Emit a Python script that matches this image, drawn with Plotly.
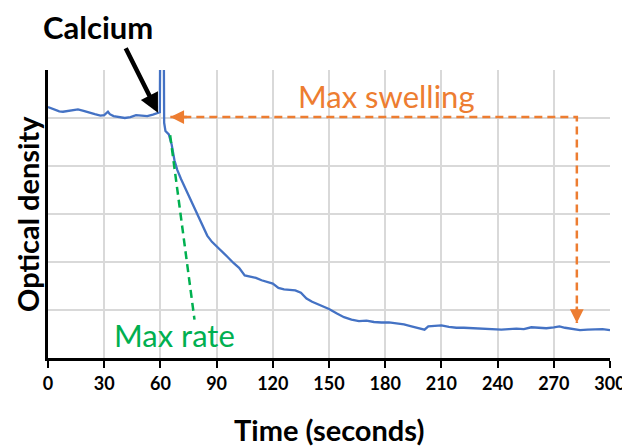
import plotly.graph_objects as go

# ---- data ----
time_s = [0, 2, 4, 6, 8, 10, 13, 16, 19, 22, 25, 28, 30, 32, 33, 35, 38, 41, 44, 47,
          50, 53, 56, 58.5, 59.7, 60.0, 61.7, 62.0, 62.7, 64.5, 66, 67.5, 69, 71, 73.5,
          76, 78.5, 81, 83, 85, 87.5, 90, 93, 96, 99, 102, 105, 108, 111, 114, 117,
          120, 123, 126, 129, 132, 135, 138, 141, 144, 147, 150, 154, 158, 162, 166,
          170, 174, 178, 182, 186, 190, 194, 198, 201, 203, 206, 210, 214, 218, 222,
          226, 230, 234, 238, 242, 246, 250, 254, 258, 262, 266, 270, 273, 276, 280,
          284, 288, 292, 296, 300]
optical_density = [5.23, 5.20, 5.16, 5.14, 5.13, 5.14, 5.17, 5.18, 5.15, 5.11, 5.08, 5.05,
                   5.06, 5.13, 5.08, 5.04, 5.02, 5.00, 5.02, 5.06, 5.05, 5.04, 5.07, 5.10,
                   5.12, 7.5, 7.5, 4.90, 4.73, 4.66, 4.45, 4.12, 3.92, 3.73, 3.52, 3.32,
                   3.12, 2.92, 2.72, 2.55, 2.42, 2.33, 2.22, 2.10, 1.98, 1.88, 1.72, 1.69,
                   1.67, 1.62, 1.58, 1.55, 1.46, 1.43, 1.42, 1.41, 1.36, 1.24, 1.17, 1.12,
                   1.07, 1.02, 0.93, 0.85, 0.80, 0.77, 0.78, 0.75, 0.74, 0.74, 0.72, 0.70,
                   0.66, 0.62, 0.59, 0.66, 0.67, 0.68, 0.65, 0.63, 0.63, 0.62, 0.62, 0.61,
                   0.60, 0.59, 0.60, 0.61, 0.60, 0.64, 0.63, 0.62, 0.64, 0.66, 0.63, 0.61,
                   0.58, 0.59, 0.59, 0.60, 0.58]

x_ticks = [0, 30, 60, 90, 120, 150, 180, 210, 240, 270, 300]

# max-rate tangent (green dashed)
rate_t = [65.2, 78.2]
rate_od = [4.64, 0.80]

# max-swelling bracket (orange dashed): left tip, corner, bottom tip
swell_t = [65.3, 282.3, 282.3]
swell_od = [5.02, 5.02, 0.73]

# calcium addition arrow tip
calcium_t = 58.7
calcium_od = 5.11

BLUE = "#4472C4"
ORANGE = "#ED7D31"
GREEN = "#00B050"
FONT = "Lato"

fig = go.Figure()

fig.add_trace(go.Scatter(x=time_s, y=optical_density, mode="lines",
                         line=dict(color=BLUE, width=2.3), hoverinfo="skip",
                         showlegend=False))
fig.add_trace(go.Scatter(x=rate_t, y=rate_od, mode="lines",
                         line=dict(color=GREEN, width=2.5, dash="8px,5px"),
                         showlegend=False))
fig.add_trace(go.Scatter(x=swell_t, y=swell_od, mode="lines",
                         line=dict(color=ORANGE, width=2.5, dash="8px,5px"),
                         showlegend=False))

annotations = [
    # orange arrowheads
    dict(x=swell_t[0], y=swell_od[0], xref="x", yref="y", text="", showarrow=True,
         ax=18, ay=0, arrowhead=2, arrowsize=1.1, arrowwidth=2.5, arrowcolor=ORANGE),
    dict(x=swell_t[2], y=swell_od[2], xref="x", yref="y", text="", showarrow=True,
         ax=0, ay=-18, arrowhead=2, arrowsize=1.1, arrowwidth=2.5, arrowcolor=ORANGE),
    # calcium arrow
    dict(x=calcium_t, y=calcium_od, xref="x", yref="y", text="", showarrow=True,
         ax=-33, ay=-66, arrowhead=2, arrowsize=0.85, arrowwidth=4.5, arrowcolor="black"),
    dict(x=26.5, y=1, xref="x", yref="paper", yshift=43, xanchor="center", yanchor="middle",
         text="<b>Calcium</b>", showarrow=False,
         font=dict(family=FONT, size=31, color="black")),
    dict(x=180.5, y=5.45, xref="x", yref="y", text="Max swelling", showarrow=False,
         xanchor="center", yanchor="middle",
         font=dict(family=FONT, size=31, color=ORANGE)),
    dict(x=67.3, y=0.47, xref="x", yref="y", text="Max rate", showarrow=False,
         xanchor="center", yanchor="middle",
         font=dict(family=FONT, size=31, color=GREEN)),
    dict(x=0, y=0.5, xref="paper", yref="paper", xshift=-21, textangle=-90,
         xanchor="center", yanchor="middle", borderpad=0,
         text="<b>Optical density</b>", showarrow=False,
         font=dict(family=FONT, size=29, color="black")),
    dict(x=0.5, y=0, xref="paper", yref="paper", yshift=-71,
         xanchor="center", yanchor="middle", borderpad=0,
         text="<b>Time (seconds)</b>", showarrow=False,
         font=dict(family=FONT, size=29, color="black")),
]

# page body has an 8px default margin, so the figure is sized to fill the rest
fig.update_layout(
    width=622, height=440,
    margin=dict(l=40, r=20, t=62, b=90),
    paper_bgcolor="white", plot_bgcolor="white",
    showlegend=False,
    annotations=annotations,
    xaxis=dict(range=[0, 300], tickvals=x_ticks, ticktext=[str(v) for v in x_ticks],
               showgrid=True, gridcolor="#d9d9d9", gridwidth=2,
               showline=True, linecolor="black", linewidth=3,
               ticks="outside", ticklen=7, tickwidth=2, tickcolor="black",
               tickfont=dict(family=FONT, size=18, color="black", weight="bold"),
               zeroline=False, fixedrange=True, automargin=False),
    yaxis=dict(range=[0, 6], dtick=1, showticklabels=False,
               showgrid=True, gridcolor="#d9d9d9", gridwidth=2,
               showline=True, linecolor="black", linewidth=3,
               ticks="", zeroline=False, fixedrange=True, automargin=False),
)

fig.write_html("out.html")
